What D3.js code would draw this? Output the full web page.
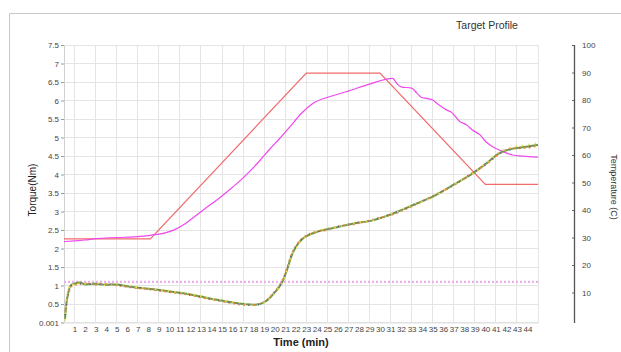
<!DOCTYPE html>
<html>
<head>
  <meta charset="UTF-8">
  <title>Target Profile</title>
  <script src="https://d3js.org/d3.v7.min.js"></script>
  <style>
    body { margin: 0; background: #fff; }
    svg { display: block; font-family: "Liberation Sans", Arial, sans-serif; }
    .grid line { stroke: #e4e4e4; stroke-width: 1; shape-rendering: crispEdges; }
    .tick text { fill: #444; }
  </style>
</head>
<body>
  <svg width="621" height="352"></svg>

  <script>
    // torque traces (Nm), several overlapping runs
    const torqueTime = [0.1, 0.2, 0.4, 0.7, 1, 1.5, 2, 3, 4, 5, 6, 7, 8.5, 10, 11.6, 13, 14.8, 16, 17.3, 18,
      18.6, 19.3, 19.9, 20.4, 20.8, 21.2, 21.6, 22.1, 22.6, 23.2, 24, 25, 26, 27.4, 29.3, 31.2, 33.1, 35,
      36.9, 38.8, 40.1, 41.3, 42.3, 43.9, 45];
    const torqueGreen = [0.1, 0.45, 0.8, 1.02, 1.05, 1.08, 1.03, 1.05, 1.02, 1.03, 0.98, 0.94, 0.9, 0.84, 0.78,
      0.7, 0.6, 0.54, 0.49, 0.48, 0.5, 0.6, 0.78, 0.95, 1.14, 1.45, 1.8, 2.08, 2.25, 2.36, 2.45, 2.52, 2.58,
      2.67, 2.76, 2.94, 3.17, 3.4, 3.71, 4.03, 4.3, 4.57, 4.68, 4.75, 4.8];
    const torqueOrange = [0.3, 0.5, 0.75, 0.98, 1.02, 1.04, 1.06, 1.02, 1.04, 1.0, 0.96, 0.93, 0.88, 0.82, 0.76,
      0.68, 0.58, 0.52, 0.47, 0.47, 0.51, 0.62, 0.8, 0.98, 1.18, 1.5, 1.85, 2.1, 2.27, 2.38, 2.46, 2.5, 2.6,
      2.65, 2.78, 2.92, 3.15, 3.42, 3.69, 4.05, 4.28, 4.55, 4.7, 4.72, 4.78];
    const torqueYellow = [0.05, 0.55, 0.85, 1.05, 1.0, 1.06, 1.05, 1.07, 1.0, 1.05, 1.0, 0.95, 0.91, 0.85, 0.8,
      0.71, 0.61, 0.55, 0.5, 0.46, 0.49, 0.59, 0.76, 0.93, 1.12, 1.42, 1.78, 2.06, 2.23, 2.34, 2.47, 2.54, 2.57,
      2.69, 2.75, 2.96, 3.18, 3.38, 3.72, 4.02, 4.32, 4.6, 4.72, 4.8, 4.85];
    const torqueBlue = [0.2, 0.4, 0.78, 1.0, 1.07, 1.05, 1.04, 1.03, 1.03, 1.02, 0.97, 0.95, 0.89, 0.83, 0.77,
      0.69, 0.59, 0.53, 0.48, 0.47, 0.5, 0.61, 0.79, 0.96, 1.15, 1.47, 1.82, 2.09, 2.26, 2.37, 2.44, 2.53, 2.59,
      2.68, 2.77, 2.95, 3.16, 3.41, 3.7, 4.04, 4.29, 4.56, 4.66, 4.74, 4.79];

    // target temperature profile (C)
    const targetTime = [0, 8.2, 23, 30, 40, 45];
    const targetTemp = [29.5, 29.5, 89.8, 89.8, 49.3, 49.3];

    // measured temperature (C)
    const actualTime = [0, 1, 2, 3, 5, 7, 8.2, 9.5, 10.4, 11.5, 12.6, 13.5, 14.5, 15.6, 16.7, 17.7, 18.6, 19.5,
      20.5, 21.5, 22.5, 23.65, 25.2, 26.8, 29, 31.2, 31.6, 32, 33, 33.5, 33.9, 34.5, 35, 35.5, 36.3, 36.8, 37.6,
      38.2, 38.8, 39.5, 40, 40.7, 41.5, 42.6, 43.5, 45];
    const actualTemp = [28.5, 28.8, 29.1, 29.6, 30, 30.3, 30.8, 31.6, 32.7, 35, 38.2, 40.8, 43.6, 47, 50.6, 54.3,
      58, 62, 66.1, 70.5, 75, 78.8, 81.2, 83, 85.8, 87.9, 86, 84.8, 84.3, 82.5, 81, 80.5, 80, 78.5, 76.4, 75.5,
      72.1, 71, 69, 67.3, 65, 63, 61.5, 60, 59.6, 59.2];

    const limitTorque = 1.1;

    const xTicks = d3.range(1, 45);
    const xGrid = d3.range(1, 45, 2);
    const leftTicks = [0, 0.5, 1, 1.5, 2, 2.5, 3, 3.5, 4, 4.5, 5, 5.5, 6, 6.5, 7, 7.5];
    const rightTicks = [10, 20, 30, 40, 50, 60, 70, 80, 90, 100];

    const svg = d3.select("svg");

    const x = d3.scaleLinear().domain([0, 45]).range([64, 538]);
    const yT = d3.scaleLinear().domain([0, 7.5]).range([322.5, 45]);
    const yC = d3.scaleLinear().domain([0, 100]).range([320, 45]);

    // outer frame
    svg.append("path")
      .attr("d", "M9.5,352 V13.5 H621")
      .attr("fill", "none")
      .attr("stroke", "#c8c8c8");

    // grid
    const grid = svg.append("g").attr("class", "grid");
    grid.selectAll(".v").data(xGrid).enter().append("line")
      .attr("x1", d => x(d)).attr("x2", d => x(d))
      .attr("y1", yT(7.5)).attr("y2", yT(0));
    grid.selectAll(".h").data(leftTicks).enter().append("line")
      .attr("x1", x(0)).attr("x2", x(45))
      .attr("y1", d => yT(d)).attr("y2", d => yT(d));
    grid.append("line")
      .attr("x1", x(45)).attr("x2", x(45))
      .attr("y1", yT(7.5)).attr("y2", yT(0));

    // left axis
    const leftAxis = svg.append("g")
      .attr("transform", `translate(${x(0)},0)`)
      .call(d3.axisLeft(yT).tickValues(leftTicks).tickSize(3).tickSizeOuter(0).tickPadding(2)
        .tickFormat(d => d === 0 ? "0.001" : d3.format("")(d)));
    leftAxis.select(".domain").attr("stroke", "#d0d0d0");
    leftAxis.selectAll(".tick line").attr("stroke", "#999");
    leftAxis.selectAll("text").style("font-size", "8px");

    // bottom axis
    const bottomAxis = svg.append("g")
      .attr("transform", `translate(0,${yT(0)})`)
      .call(d3.axisBottom(x).tickValues(xTicks).tickSize(0).tickPadding(4));
    bottomAxis.select(".domain").attr("stroke", "#e0e0e0");
    bottomAxis.selectAll("text").style("font-size", "8px").attr("fill", "#333");

    // right axis
    const rightAxis = svg.append("g")
      .attr("transform", "translate(574,0)")
      .call(d3.axisRight(yC).tickValues(rightTicks).tickSizeInner(-2).tickSizeOuter(0).tickPadding(8));
    rightAxis.select(".domain").attr("stroke", "#555").attr("stroke-width", 1.3)
      .attr("d", `M0.5,${yC(100)}V323`);
    rightAxis.selectAll(".tick line").attr("stroke", "#666");
    rightAxis.selectAll("text").style("font-size", "8px").attr("text-anchor", "start");

    // limit line
    svg.append("line")
      .attr("x1", x(0)).attr("x2", x(45))
      .attr("y1", yT(limitTorque)).attr("y2", yT(limitTorque))
      .attr("stroke", "#eab0ee")
      .attr("stroke-width", 2.2)
      .attr("stroke-dasharray", "2,2");

    const tLine = (ys) => d3.line()
      .x((d, i) => x(torqueTime[i]))
      .y(d => yT(d))
      .curve(d3.curveMonotoneX)(ys);

    const cLine = (xs, ys) => d3.line()
      .x((d, i) => x(xs[i]))
      .y(d => yC(d))(ys);

    // target profile
    svg.append("path")
      .attr("d", cLine(targetTime, targetTemp))
      .attr("fill", "none")
      .attr("stroke", "#f26a6a")
      .attr("stroke-width", 1.2);

    // measured temperature
    svg.append("path")
      .attr("d", d3.line().x((d, i) => x(actualTime[i])).y(d => yC(d)).curve(d3.curveMonotoneX)(actualTemp))
      .attr("fill", "none")
      .attr("stroke", "#ee48ee")
      .attr("stroke-width", 1.2);

    // torque runs
    const runs = [
      { ys: torqueGreen, color: "#6a9848", w: 2, dash: null },
      { ys: torqueOrange, color: "#ea8a44", w: 1.8, dash: "2,3" },
      { ys: torqueYellow, color: "#e8e050", w: 1.8, dash: "1.5,5" },
      { ys: torqueBlue, color: "#4a56b0", w: 1.4, dash: "1,9" }
    ];
    runs.forEach(r => {
      svg.append("path")
        .attr("d", tLine(r.ys))
        .attr("fill", "none")
        .attr("stroke", r.color)
        .attr("stroke-width", r.w)
        .attr("stroke-dasharray", r.dash);
    });

    // titles
    svg.append("text")
      .attr("x", 487).attr("y", 29)
      .attr("text-anchor", "middle")
      .style("font-size", "10.5px")
      .attr("fill", "#333")
      .text("Target Profile");

    svg.append("text")
      .attr("x", 301).attr("y", 346)
      .attr("text-anchor", "middle")
      .style("font-size", "11px")
      .style("font-weight", "bold")
      .attr("fill", "#222")
      .text("Time (min)");

    svg.append("text")
      .attr("transform", "translate(36,190) rotate(-90)")
      .attr("text-anchor", "middle")
      .style("font-size", "10px")
      .attr("fill", "#222")
      .text("Torque(Nm)");

    svg.append("text")
      .attr("transform", "translate(611,187) rotate(90)")
      .attr("text-anchor", "middle")
      .style("font-size", "9px")
      .attr("fill", "#333")
      .text("Temperature (C)");
  </script>
</body>
</html>
